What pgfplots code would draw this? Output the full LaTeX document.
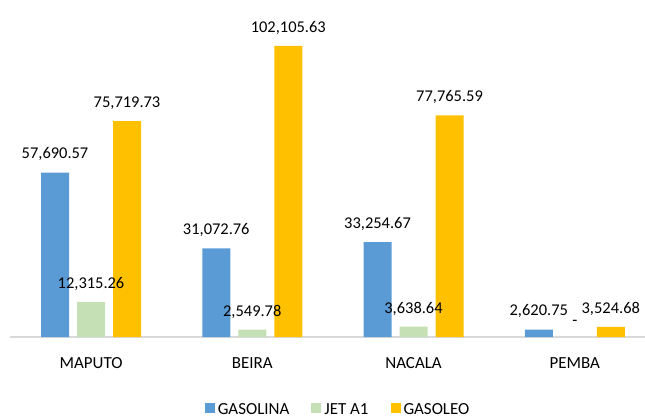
\documentclass[border=0pt]{standalone}
\usepackage{pgfplots}
\pgfplotsset{compat=1.18}
\usepackage{fontspec}
\setmainfont{Carlito}

\definecolor{cGas}{HTML}{5B9BD5}
\definecolor{cJet}{HTML}{C5E0B4}
\definecolor{cOleo}{HTML}{FFC000}
\definecolor{axgray}{HTML}{D9D9D9}

\begin{document}
\begin{tikzpicture}
\useasboundingbox (-10.4bp,-81bp) rectangle (634.6bp,337bp);
\begin{axis}[
    scale only axis,
    width=645bp, height=337bp,
    anchor=south west, at={(0,0)},
    ybar=8bp, bar width=28bp,
    xmin=-0.5, xmax=3.5, ymin=0, ymax=118200,
    xtick=data,
    xticklabels={MAPUTO,BEIRA,NACALA,PEMBA},
    xticklabel style={font=\fontsize{17}{19}\selectfont, yshift=-17bp},
    major tick length=0pt,
    ytick=\empty,
    axis y line=none,
    axis x line*=bottom,
    x axis line style={axgray, line width=1.2bp, -},
    clip=false,
    point meta=explicit symbolic,
    nodes near coords,
    nodes near coords style={font=\fontsize{16.5}{19}\selectfont, text=black, yshift=8bp},
    legend columns=-1,
    legend style={at={(0.508,-0.215)}, anchor=center, draw=none,
      font=\fontsize{17}{19}\selectfont,
      /tikz/every odd column/.append style={column sep=1bp},
      /tikz/every even column/.append style={column sep=20bp}},
    legend image code/.code={\fill[#1] (0bp,-4bp) rectangle (10bp,6bp);},
    ]
\addplot[fill=cGas, draw=none] coordinates {
  (0,57690.57) [57,690.57]
  (1,31072.76) [31,072.76]
  (2,33254.67) [33,254.67]
  (3,2620.75) [2,620.75]
};
\addplot[fill=cJet, draw=none] coordinates {
  (0,12315.26) [12,315.26]
  (1,2549.78) [2,549.78]
  (2,3638.64) [3,638.64]
  (3,0) [-]
};
\addplot[fill=cOleo, draw=none] coordinates {
  (0,75719.73) [75,719.73]
  (1,102105.63) [102,105.63]
  (2,77765.59) [77,765.59]
  (3,3524.68) [3,524.68]
};
\legend{GASOLINA,JET A1,GASOLEO}
\end{axis}
\end{tikzpicture}
\end{document}
